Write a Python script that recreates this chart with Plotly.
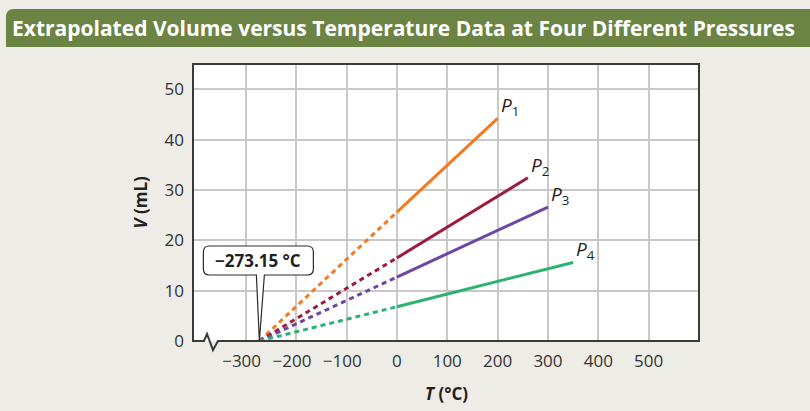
import plotly.graph_objects as go

# ---- data ----
series_names = ["P1", "P2", "P3", "P4"]
absolute_zero = -273.15
v_at_zero = [25.6, 16.5, 12.7, 6.8]        # V (mL) at T = 0 °C
t_end = [200, 260, 300, 350]               # last measured temperature (°C)
v_end = [44.2, 32.4, 26.6, 15.6]           # V (mL) at last measured temperature
colors = ["#f47a22", "#9c1c3c", "#6c46a0", "#2bb270"]

x_tickvals = [-300, -200, -100, 0, 100, 200, 300, 400, 500]
x_ticktext = ["\u2212300\u2002", "\u2212200\u2002", "\u2212100\u2002", "0", "100", "200", "300", "400", "500"]
y_tickvals = [0, 10, 20, 30, 40, 50]

W, H = 810, 411
L, R, T, B = 193, 111, 64, 70
PW, PH = W - L - R, H - T - B
BG = "#edece6"
FONT = "Open Sans"

fig = go.Figure()
for i, name in enumerate(series_names):
    # extrapolated (dashed) part
    fig.add_trace(go.Scatter(
        x=[absolute_zero, 0], y=[0, v_at_zero[i]], mode="lines",
        line=dict(color=colors[i], width=3, dash="5px,4px"),
        showlegend=False, hoverinfo="skip"))
    # measured (solid) part
    fig.add_trace(go.Scatter(
        x=[0, t_end[i]], y=[v_at_zero[i], v_end[i]], mode="lines",
        line=dict(color=colors[i], width=3), showlegend=False, name=name))
    fig.add_annotation(
        x=t_end[i], y=v_end[i], xanchor="left", yanchor="middle",
        text="<i>P</i><sub>%s</sub>" % name[1:], showarrow=False,
        xshift=1, yshift=12,
        font=dict(family=FONT, size=19, color="#231f20"))

shapes = []
# plot frame with axis-break squiggle on the bottom edge
shapes.append(dict(
    type="path", xref="paper", yref="paper", xsizemode="pixel", ysizemode="pixel",
    xanchor=0, yanchor=0,
    path="M 0,0 L 0,%d L %d,%d L %d,0 L 25,0 L 20,-9 L 14,7 L 11,0 Z" % (PH, PW, PH, PW),
    line=dict(color="#3a3a3a", width=2), fillcolor="rgba(0,0,0,0)", layer="above"))
# callout for absolute zero
shapes.append(dict(
    type="path", xref="x", yref="y", xsizemode="pixel", ysizemode="pixel",
    xanchor=absolute_zero, yanchor=0,
    path=("M 0,0 L 5,66 L 48,66 Q 54,66 54,72 L 54,89 Q 54,95 48,95 "
          "L -50,95 Q -56,95 -56,89 L -56,72 Q -56,66 -50,66 L -3,66 Z"),
    line=dict(color="#2a2a2a", width=1.2), fillcolor="white", layer="above"))
# title bar (rounded top-left corner), pixel offsets from the top-left of the plot area
bx0, bx1 = 6 - L, W - L
by_bot, by_top = T - 47, T - 9
shapes.append(dict(
    type="path", xref="paper", yref="paper", xsizemode="pixel", ysizemode="pixel",
    xanchor=0, yanchor=1,
    path=("M %d,%d L %d,%d L %d,%d L %d,%d Q %d,%d %d,%d Z" % (
        bx0, by_bot, bx1, by_bot, bx1, by_top, bx0 + 8, by_top,
        bx0, by_top, bx0, by_top - 8)),
    line=dict(width=0), fillcolor="#6b8443", layer="below"))

fig.add_annotation(
    x=absolute_zero, y=0, text="<b>\u2212273.15 \u00b0C</b>", showarrow=False,
    xanchor="center", yanchor="middle", xshift=-1, yshift=80.5,
    font=dict(family=FONT, size=17, color="#231f20"))

fig.add_annotation(
    xref="paper", yref="paper", x=(10 - L) / PW, y=(H - B - 28) / PH,
    xanchor="left", yanchor="middle", showarrow=False,
    text="<b>Extrapolated Volume versus Temperature Data at Four Different Pressures</b>",
    font=dict(family=FONT, size=21, color="white"))

fig.add_annotation(
    xref="paper", yref="paper", x=(140 - L) / PW, y=0.5, textangle=-90,
    xanchor="center", yanchor="middle", showarrow=False,
    text="<b><i>V</i> (mL)</b>", font=dict(family=FONT, size=17, color="#231f20"))
fig.add_annotation(
    xref="paper", yref="paper", x=0.5, y=(H - B - 393) / PH,
    xanchor="center", yanchor="middle", showarrow=False,
    text="<b><i>T</i> (\u00b0C)</b>", font=dict(family=FONT, size=17, color="#231f20"))

fig.update_layout(
    width=W, height=H, margin=dict(l=L, r=R, t=T, b=B),
    paper_bgcolor=BG, plot_bgcolor="white", shapes=shapes,
    xaxis=dict(range=[-405, 600], tickmode="array", tickvals=x_tickvals, ticktext=x_ticktext,
               showgrid=True, gridcolor="#c9c9c9", gridwidth=1.5, zeroline=False,
               showline=False, ticks="", ticklabelstandoff=8,
               tickfont=dict(family=FONT, size=17, color="#333333")),
    yaxis=dict(range=[0, 55], tickmode="array", tickvals=y_tickvals,
               showgrid=True, gridcolor="#c9c9c9", gridwidth=1.5, zeroline=False,
               showline=False, ticks="", ticklabelstandoff=8,
               tickfont=dict(family=FONT, size=17, color="#333333")),
)

fig.write_html("out.html", config={"displayModeBar": False},
               post_script="document.body.style.margin='0';document.body.style.overflow='hidden';")
